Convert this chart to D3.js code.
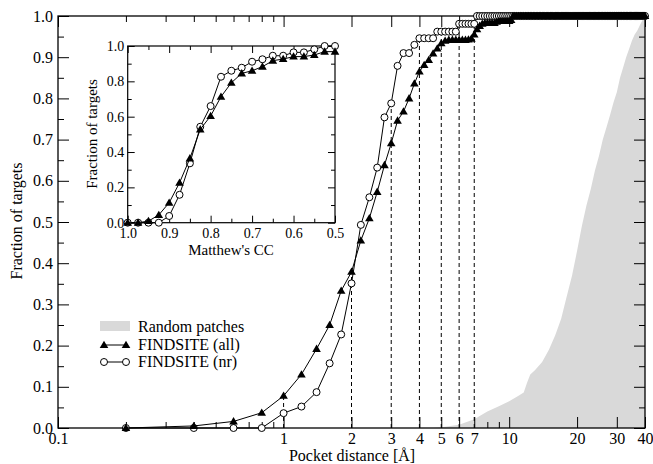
<!DOCTYPE html>
<html><head><meta charset="utf-8">
<script src="https://cdn.jsdelivr.net/npm/d3@7"></script>
<style>
body{margin:0;background:#fff}
svg text{font-family:"Liberation Serif","Times New Roman",serif;fill:#000}
</style>
</head><body><svg id="c" width="653" height="464"></svg>
<script>
// ---------- data ----------
const distances = [
0.2,0.4,0.6,0.8,1,1.2,1.4,1.6,1.8,2,
2.2,2.4,2.6,2.8,3,3.2,3.4,3.6,3.8,4,
4.2,4.4,4.6,4.8,5,5.2,5.4,5.6,5.8,6,
6.2,6.4,6.6,6.8,7,7.2,7.4,7.6,7.8,8,
8.2,8.4,8.6,8.8,9,9.2,9.4,9.6,9.8,10,
10.2,10.4,10.6,10.8,11,11.2,11.4,11.6,11.8,12,
12.2,12.4,12.6,12.8,13,13.2,13.4,13.6,13.8,14,
14.2,14.4,14.6,14.8,15,15.2,15.4,15.6,15.8,16,
16.2,16.4,16.6,16.8,17,17.2,17.4,17.6,17.8,18,
18.2,18.4,18.6,18.8,19,19.2,19.4,19.6,19.8,20,
20.2,20.4,20.6,20.8,21,21.2,21.4,21.6,21.8,22,
22.2,22.4,22.6,22.8,23,23.2,23.4,23.6,23.8,24,
24.2,24.4,24.6,24.8,25,25.2,25.4,25.6,25.8,26,
26.2,26.4,26.6,26.8,27,27.2,27.4,27.6,27.8,28,
28.2,28.4,28.6,28.8,29,29.2,29.4,29.6,29.8,30,
30.2,30.4,30.6,30.8,31,31.2,31.4,31.6,31.8,32,
32.2,32.4,32.6,32.8,33,33.2,33.4,33.6,33.8,34,
34.2,34.4,34.6,34.8,35,35.2,35.4,35.6,35.8,36,
36.2,36.4,36.6,36.8,37,37.2,37.4,37.6,37.8,38,
38.2,38.4,38.6,38.8,39,39.2,39.4,39.6,39.8,40];

const findsiteAll = [
0,0.005,0.016,0.037,0.078,0.130,0.192,0.250,0.333,0.379,
0.455,0.509,0.573,0.638,0.691,0.746,0.768,0.800,0.836,0.865,
0.881,0.893,0.909,0.921,0.934,0.940,0.942,0.942,0.942,0.942,
0.942,0.942,0.943,0.945,0.955,0.968,0.976,0.981,0.983,0.983,
0.983,0.983,0.983,0.986,0.988,0.988,0.988,0.988,0.988,0.988,
0.990,1,1,1,1,1,1,1,1,1,
1,1,1,1,1,1,1,1,1,1,
1,1,1,1,1,1,1,1,1,1,
1,1,1,1,1,1,1,1,1,1,
1,1,1,1,1,1,1,1,1,1,
1,1,1,1,1,1,1,1,1,1,
1,1,1,1,1,1,1,1,1,1,
1,1,1,1,1,1,1,1,1,1,
1,1,1,1,1,1,1,1,1,1,
1,1,1,1,1,1,1,1,1,1,
1,1,1,1,1,1,1,1,1,1,
1,1,1,1,1,1,1,1,1,1,
1,1,1,1,1,1,1,1,1,1,
1,1,1,1,1,1,1,1,1,1,
1,1,1,1,1,1,1,1,1,1];

const findsiteNr = [
0,0,0,0,0.036,0.052,0.087,0.157,0.227,0.351,
0.493,0.560,0.632,0.754,0.788,0.879,0.910,0.910,0.930,0.946,
0.946,0.946,0.946,0.962,0.962,0.962,0.962,0.962,0.962,0.981,
0.981,0.981,0.981,0.981,0.981,1,1,1,1,1,
1,1,1,1,1,1,1,1,1,1,
1,1,1,1,1,1,1,1,1,1,
1,1,1,1,1,1,1,1,1,1,
1,1,1,1,1,1,1,1,1,1,
1,1,1,1,1,1,1,1,1,1,
1,1,1,1,1,1,1,1,1,1,
1,1,1,1,1,1,1,1,1,1,
1,1,1,1,1,1,1,1,1,1,
1,1,1,1,1,1,1,1,1,1,
1,1,1,1,1,1,1,1,1,1,
1,1,1,1,1,1,1,1,1,1,
1,1,1,1,1,1,1,1,1,1,
1,1,1,1,1,1,1,1,1,1,
1,1,1,1,1,1,1,1,1,1,
1,1,1,1,1,1,1,1,1,1,
1,1,1,1,1,1,1,1,1,1];

const randomDist = [4.6,5,6,7,8,9,10,11,11.6,12,12.4,13,14,15,16,17,18,19,20,21,22,23,24,25,26,27,28,29,30,31,32,33,34,35,36,37,38,39,40];
const randomFrac = [0,0.002,0.008,0.021,0.040,0.053,0.065,0.078,0.086,0.110,0.130,0.140,0.160,0.190,0.225,0.265,0.320,0.370,0.430,0.490,0.540,0.580,0.625,0.660,0.700,0.730,0.760,0.790,0.815,0.850,0.875,0.900,0.920,0.940,0.955,0.965,0.978,0.990,1.0];

const mccValues = [1.0,0.975,0.95,0.925,0.9,0.875,0.85,0.825,0.8,0.775,0.75,0.725,0.7,0.675,0.65,0.625,0.6,0.575,0.55,0.525,0.5];
const mccAll = [0,0,0.009,0.044,0.113,0.226,0.364,0.528,0.604,0.713,0.792,0.845,0.860,0.883,0.917,0.926,0.940,0.940,0.949,0.968,0.968];
const mccNr  = [0,0,0,0,0.038,0.158,0.336,0.543,0.660,0.826,0.860,0.877,0.911,0.925,0.945,0.945,0.964,0.964,0.981,1.0,1.0];

const yMajorTicks = [0,0.1,0.2,0.3,0.4,0.5,0.6,0.7,0.8,0.9,1.0];
const yMinorTicks = [0.05,0.15,0.25,0.35,0.45,0.55,0.65,0.75,0.85,0.95];
const xMajorTicks = [0.1,1,2,3,4,5,6,7,10,20,30,40];
const xMinorTicks = [0.2,0.3,0.4,0.5,0.6,0.7,0.8,0.9,8,9];
const dropLines = [1,2,3,4,5,6,7];
const insetXMajor = [1.0,0.9,0.8,0.7,0.6,0.5];
const insetXMinor = [0.95,0.85,0.75,0.65,0.55];
const insetYMajor = [0,0.2,0.4,0.6,0.8,1.0];
const insetYMinor = [0.1,0.3,0.5,0.7,0.9];
const legendItems = ["Random patches","FINDSITE (all)","FINDSITE (nr)"];

// ---------- drawing ----------
const svg = d3.select("#c");
const L=58, R=645, T=16, B=428;
const x = d3.scaleLog().domain([0.1,40]).range([L,R]);
const y = d3.scaleLinear().domain([0,1]).range([B,T]);
const fmt1 = d3.format(".1f");
const triPath = "M0,-4.3L4.3,3L-4.3,3Z";

// random patches area
svg.append("path")
  .datum(randomDist.map((d,i)=>[d,randomFrac[i]]))
  .attr("fill","#d9d9d9")
  .attr("d", d3.area().x(d=>x(d[0])).y0(y(0)).y1(d=>y(d[1])));

// drop lines
const allMap = new Map(distances.map((d,i)=>[d,findsiteAll[i]]));
const nrMap = new Map(distances.map((d,i)=>[d,findsiteNr[i]]));
svg.append("g").selectAll("line").data(dropLines).join("line")
  .attr("x1",d=>x(d)).attr("x2",d=>x(d))
  .attr("y1",y(0)).attr("y2",d=>y(Math.max(allMap.get(d),nrMap.get(d))))
  .attr("stroke","#000").attr("stroke-width",1).attr("stroke-dasharray","4,3");

// axes (inward ticks)
function addAxis(axis, tx, ty, size, vals, fmt, pad, fs){
  const g = svg.append("g").attr("transform",`translate(${tx},${ty})`)
    .call(axis.tickValues(vals).tickSize(size).tickPadding(pad).tickFormat(fmt));
  g.select(".domain").remove();
  g.selectAll("line").attr("stroke","#000").attr("stroke-width",1);
  g.selectAll("text").attr("font-size",fs).attr("font-family",null);
  return g;
}
const xfmt = d=> d===0.1 ? "0.1" : d3.format("d")(d);
addAxis(d3.axisBottom(x),0,B,-11,xMajorTicks,xfmt,5,16);
addAxis(d3.axisBottom(x),0,B,-6,xMinorTicks,"",5,16);
addAxis(d3.axisTop(x),0,T,-11,xMajorTicks,"",5,16);
addAxis(d3.axisTop(x),0,T,-6,xMinorTicks,"",5,16);
addAxis(d3.axisLeft(y),L,0,-11,yMajorTicks,fmt1,5,16);
addAxis(d3.axisLeft(y),L,0,-6,yMinorTicks,"",5,16);
addAxis(d3.axisRight(y),R,0,-11,yMajorTicks,"",5,16);
addAxis(d3.axisRight(y),R,0,-6,yMinorTicks,"",5,16);

svg.append("rect").attr("x",L).attr("y",T).attr("width",R-L).attr("height",B-T)
  .attr("fill","none").attr("stroke","#000").attr("stroke-width",1.3);

// series
function drawSeries(g, xs, ys, sx, sy, kind){
  const pts = xs.map((d,i)=>[sx(d),sy(ys[i])]);
  g.append("path").attr("d",d3.line()(pts)).attr("fill","none").attr("stroke","#000").attr("stroke-width",1);
  if(kind==="circle"){
    g.append("g").selectAll("circle").data(pts).join("circle")
      .attr("cx",d=>d[0]).attr("cy",d=>d[1]).attr("r",3.5)
      .attr("fill","#fff").attr("stroke","#000").attr("stroke-width",1);
  } else {
    g.append("g").selectAll("path").data(pts).join("path")
      .attr("d",triPath).attr("transform",d=>`translate(${d[0]},${d[1]})`)
      .attr("fill","#000");
  }
}
drawSeries(svg.append("g"), distances, findsiteNr, x, y, "circle");
drawSeries(svg.append("g"), distances, findsiteAll, x, y, "tri");

// axis titles
svg.append("text").attr("x",352).attr("y",461).attr("text-anchor","middle").attr("font-size",16).text("Pocket distance [Å]");
svg.append("text").attr("transform","translate(22,221) rotate(-90)").attr("text-anchor","middle").attr("font-size",16).text("Fraction of targets");

// legend
const lg = svg.append("g");
lg.append("rect").attr("x",100).attr("y",321).attr("width",30).attr("height",10).attr("fill","#d9d9d9");
lg.append("text").attr("x",138).attr("y",331.5).attr("font-size",16).text(legendItems[0]);
lg.append("line").attr("x1",104).attr("x2",126).attr("y1",345).attr("y2",345).attr("stroke","#000");
[104,126].forEach(px=>lg.append("path").attr("d",triPath).attr("transform",`translate(${px},345)`).attr("fill","#000"));
lg.append("text").attr("x",138).attr("y",349.5).attr("font-size",16).text(legendItems[1]);
lg.append("line").attr("x1",104).attr("x2",126).attr("y1",362).attr("y2",362).attr("stroke","#000");
[104,126].forEach(px=>lg.append("circle").attr("cx",px).attr("cy",362).attr("r",3.5).attr("fill","#fff").attr("stroke","#000"));
lg.append("text").attr("x",138).attr("y",366.5).attr("font-size",16).text(legendItems[2]);

// ---------- inset ----------
const iL=127.7, iR=335, iT=46, iB=222.7;
const ix = d3.scaleLinear().domain([1.0,0.5]).range([iL,iR]);
const iy = d3.scaleLinear().domain([0,1]).range([iB,iT]);
svg.append("rect").attr("x",iL).attr("y",iT).attr("width",iR-iL).attr("height",iB-iT).attr("fill","#fff");
addAxis(d3.axisBottom(ix),0,iB,-7,insetXMajor,fmt1,5.5,14);
addAxis(d3.axisBottom(ix),0,iB,-4,insetXMinor,"",5,14);
addAxis(d3.axisTop(ix),0,iT,-7,insetXMajor,"",5,14);
addAxis(d3.axisTop(ix),0,iT,-4,insetXMinor,"",5,14);
addAxis(d3.axisLeft(iy),iL,0,-7,insetYMajor,fmt1,3.5,14);
addAxis(d3.axisLeft(iy),iL,0,-4,insetYMinor,"",5,14);
addAxis(d3.axisRight(iy),iR,0,-7,insetYMajor,"",5,14);
addAxis(d3.axisRight(iy),iR,0,-4,insetYMinor,"",5,14);
svg.append("rect").attr("x",iL).attr("y",iT).attr("width",iR-iL).attr("height",iB-iT)
  .attr("fill","none").attr("stroke","#000").attr("stroke-width",1.2);
drawSeries(svg.append("g"), mccValues, mccNr, ix, iy, "circle");
drawSeries(svg.append("g"), mccValues, mccAll, ix, iy, "tri");
svg.append("text").attr("x",231).attr("y",254.5).attr("text-anchor","middle").attr("font-size",15).text("Matthew's CC");
svg.append("text").attr("transform","translate(97,134) rotate(-90)").attr("text-anchor","middle").attr("font-size",15).text("Fraction of targets");
</script>
</body></html>
